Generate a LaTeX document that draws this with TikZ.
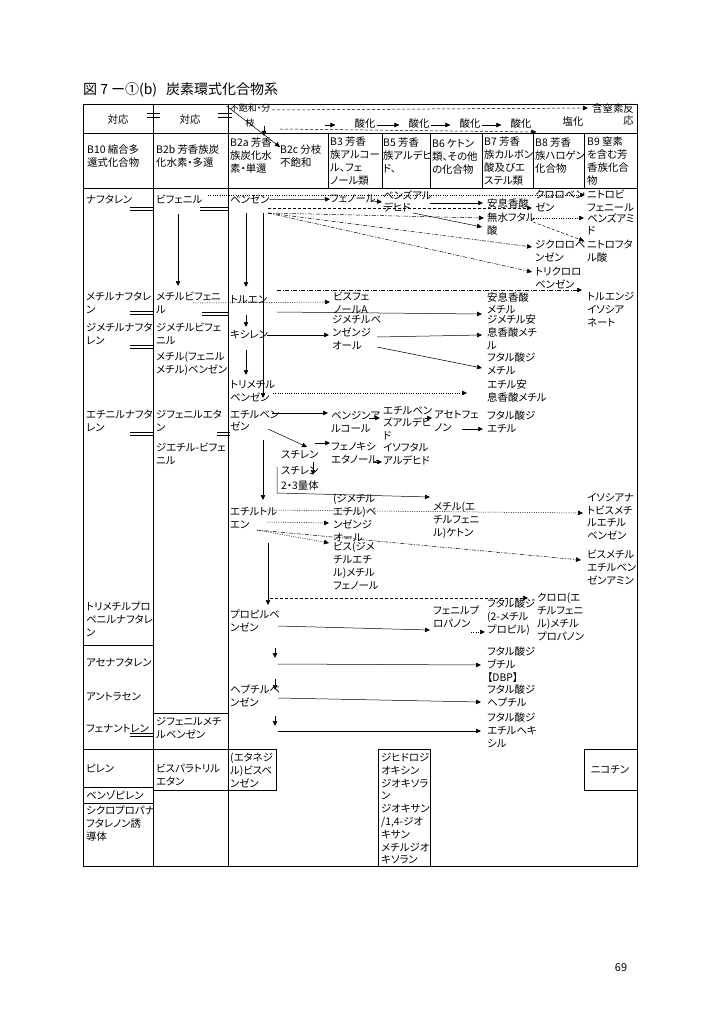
\documentclass[tikz,border=0pt]{standalone}
\usepackage{fontspec}
\setmainfont{Noto Sans CJK JP}[RawFeature=+palt]
\usetikzlibrary{positioning, arrows.meta, calc}

\tikzset{
  lbl/.style={anchor=north west, inner sep=0pt, align=left, font=\fontsize{10.4}{12.8}\selectfont},
  arr/.style={-{Triangle[length=5pt,width=4.5pt]}, line width=0.5pt},
  dotarr/.style={arr, dash pattern=on 1pt off 1.3pt},
  dasharr/.style={arr, dash pattern=on 3pt off 2pt},
  ddarr/.style={arr, dash pattern=on 4pt off 1.5pt on 1pt off 1.5pt},
  rule/.style={line width=0.7pt},
  eqmark/.style={line width=0.5pt},
}

\begin{document}
\begin{tikzpicture}[x=1pt, y=-1pt]
  \useasboundingbox (0,0) rectangle (720,1024);

  % title and page number
  \node[anchor=west, inner sep=0pt, font=\fontsize{14}{16}\selectfont] (title) at (83,90) {図 7 ー①(b)\hspace{9pt}炭素環式化合物系};
  \node[inner sep=0pt, font=\fontsize{11}{13}\selectfont] (pgno) at (621,968) {69};

  % table frame
  \draw[rule] (83,104) rectangle (637,866);
  \draw[rule] (83,133) -- (637,133);
  \draw[rule] (83,188) -- (637,188);
  \draw[rule] (153,104) -- (153,866);
  \draw[rule] (228,104) -- (228,866);
  \foreach \x in {328,382,430,482,533,584}
    \draw[rule] (\x,133) -- (\x,188);

  % header row 1
  \node[font=\fontsize{10.4}{12.8}\selectfont] (hc1) at (118,120) {対応};
  \node[font=\fontsize{10.4}{12.8}\selectfont] (hc2) at (190,120) {対応};
  \node[anchor=north, inner sep=0pt, align=center, font=\fontsize{9}{15}\selectfont] (hfb) at (250,104) {不飽和・分\\枝};
  \node[anchor=north east, inner sep=0pt, align=right, font=\fontsize{10.4}{11.5}\selectfont] (hn) at (634,104) {含窒素反\\応};
  \foreach \i/\x in {1/365,2/419,3/470,4/521}
    \node[font=\fontsize{10.4}{12.8}\selectfont, inner sep=0pt] (ox\i) at (\x,124) {酸化};
  \node[font=\fontsize{10.4}{12.8}\selectfont, inner sep=0pt] (hcl) at (573,122) {塩化};

  % header row 2
  \node[lbl] (hb10) at (87,145) {B10 縮合多\\還式化合物};
  \node[lbl] (hb2b) at (156,145) {B2b 芳香族炭\\化水素・多還};
  \node[lbl] (hb2a) at (230,138) {B2a 芳香\\族炭化水\\素・単還};
  \node[lbl] (hb2c) at (280,145) {B2c 分枝\\不飽和};
  \node[lbl] (hb3) at (330,137) {B3 芳香\\族アルコー\\ル、フェ\\ノール類};
  \node[lbl] (hb5) at (383,138) {B5 芳香\\族アルデヒ\\ド、};
  \node[lbl] (hb6) at (432,139) {B6 ケトン\\類、その他\\の化合物};
  \node[lbl] (hb7) at (484,137) {B7 芳香\\族カルボン\\酸及びエ\\ステル類};
  \node[lbl] (hb8) at (535,138) {B8 芳香\\族ハロゲン\\化合物};
  \node[lbl] (hb9) at (587,137) {B9 窒素\\を含む芳\\香族化合\\物};

  % header arrows
  \foreach \xa/\xb in {147/160,218/232} {
    \draw[eqmark] (\xa,113) -- (\xb,113);
    \draw[eqmark] (\xa,117) -- (\xb,117);
  }
  \draw[arr] ($(hfb.north west)+(-3,2)$) -- ($(hb2c.north west)+(0,2)$);
  \draw[arr] ($(hfb.north)+(14,22)$) -- ($(hfb.north)+(14,32)$);
  \draw[dasharr] ($(hfb.north)+(22,6)$) -- ($(hn.north west)+(-4,4)$);
  \coordinate (oxs) at ($(hfb.north)+(30,25)$);
  \draw[dasharr] (oxs) -- ($(hcl.west)+(-26,10)$);
  \draw[arr] ($(ox1.west)+(-29,1)$) -- ($(ox1.west)+(-19,1)$);
  \foreach \a/\b in {ox1/ox2,ox2/ox3,ox3/ox4}
    \draw[arr] ($(\a.east)+(1,1)$) -- ($(\b.west)+(-9,1)$);

  % column B10
  \node[lbl] (naph) at (86,195) {ナフタレン};
  \node[lbl] (mnaph) at (86,292) {メチルナフタレ\\ン};
  \node[lbl] (dmnaph) at (86,323) {ジメチルナフタ\\レン};
  \node[lbl] (enaph) at (86,410) {エチニルナフタ\\レン};
  \node[lbl] (tmpn) at (86,602) {トリメチルプロ\\ペニルナフタレ\\ン};
  \node[lbl] (acen) at (86,658) {アセナフタレン};
  \node[lbl] (anth) at (86,692) {アントラセン};
  \node[lbl] (phen) at (86,724) {フェナントレン};
  \node[lbl] (pyr) at (86,764) {ピレン};
  \node[lbl] (bpyr) at (86,790) {ベンゾピレン};
  \node[lbl] (cpn) at (86,806) {シクロプロパナ\\フタレノン誘\\導体};
  \draw[rule] (83,645) -- (153,645);
  \draw[rule] (83,749) -- (228,749);
  \draw[rule] (83,787) -- (153,787);
  \draw[rule] (83,803) -- (153,803);

  % column B2b
  \node[lbl] (biph) at (156,195) {ビフェニル};
  \node[lbl] (mbiph) at (156,292) {メチルビフェニ\\ル};
  \node[lbl] (dmbiph) at (156,323) {ジメチルビフェ\\ニル};
  \node[lbl] (mpmb) at (156,352) {メチル(フェニル\\メチル)ベンゼン};
  \node[lbl] (dpe) at (156,410) {ジフェニルエタ\\ン};
  \node[lbl] (debiph) at (156,443) {ジエチル-ビフェ\\ニル};
  \node[lbl] (dpmb) at (156,717) {ジフェニルメチ\\ルベンゼン};
  \node[lbl] (bpte) at (156,764) {ビスパラトリル\\エタン};
  \draw[rule] (153,713) -- (228,713);
  \draw[rule] (153,790) -- (228,790);
  \draw[arr] ($(biph.south west)+(22,10)$) -- ($(mbiph.north west)+(22,-6)$);

  % correspondence marks
  \foreach \xa/\xb/\yy in {130/153/209, 200/228/209, 130/153/313, 202/228/314,
                           130/153/347, 130/153/434, 217/230/434, 130/153/735} {
    \draw[eqmark] (\xa,\yy-1.3) -- (\xb,\yy-1.3);
    \draw[eqmark] (\xa,\yy+1.3) -- (\xb,\yy+1.3);
  }

  % single ring hydrocarbons
  \node[lbl] (benz) at (230,195) {ベンゼン};
  \node[lbl] (tol) at (230,295) {トルエン};
  \node[lbl] (xyl) at (230,330) {キシレン};
  \node[lbl] (tmb) at (230,380) {トリメチル\\ベンゼン};
  \node[lbl] (ebz) at (230,410) {エチルベン\\ゼン};
  \node[lbl] (sty) at (281,450) {スチレン};
  \node[lbl, font=\fontsize{10.4}{15}\selectfont] (dimer) at (281,466) {スチレン\\2・3量体};
  \node[lbl] (etol) at (230,507) {エチルトル\\エン};
  \node[lbl] (pbz) at (230,610) {プロピルベ\\ンゼン};
  \node[lbl] (hbz) at (230,685) {ヘプチルベ\\ンゼン};
  \node[lbl] (ebb) at (230,753) {(エタネジ\\ル)ビスベ\\ンゼン};
  \draw[rule] (228,749) -- (276,749) -- (276,790) -- (228,790);

  % B3
  \node[lbl] (phenol) at (330,195) {フェノール};
  \node[lbl] (bpa) at (333,292) {ビスフェ\\ノールA};
  \node[lbl] (dmbd) at (332,315) {ジメチルベ\\ンゼンジ\\オール};
  \node[lbl] (bzalc) at (331,411) {ベンジンア\\ルコール};
  \node[lbl] (phe) at (331,442) {フェノキシ\\エタノール};
  \node[lbl] (dmebd) at (333,494) {(ジメチル\\エチル)ベ\\ンゼンジ\\オール};
  \node[lbl] (bdmep) at (333,542) {ビス(ジメ\\チルエチ\\ル)メチル\\フェノール};

  % B5, B6
  \node[lbl] (bzald) at (383,190) {ベンズアル\\デヒド};
  \node[lbl] (ebzald) at (383,406) {エチルベン\\ズアルデヒ\\ド};
  \node[lbl] (ipa) at (383,443) {イソフタル\\アルデヒド};
  \node[lbl] (acph) at (434,410) {アセトフェ\\ノン};
  \node[lbl] (mek) at (433,502) {メチル(エ\\チルフェニ\\ル)ケトン};
  \node[lbl] (ppn) at (433,606) {フェニルプ\\ロパノン};
  \node[lbl] (diox) at (381,753) {ジヒドロジ\\オキシン\\ジオキソラ\\ン\\ジオキサン\\/1,4-ジオ\\キサン\\メチルジオ\\キソラン};
  \draw[rule] (378,866) -- (378,749) -- (430,749) -- (430,866);

  % B7
  \node[lbl] (bzac) at (487,198) {安息香酸};
  \node[lbl] (pa) at (487,213) {無水フタル\\酸};
  \node[lbl] (mbz) at (487,292) {安息香酸\\メチル};
  \node[lbl] (dmmb) at (487,315) {ジメチル安\\息香酸メチ\\ル};
  \node[lbl] (dmp) at (487,353) {フタル酸ジ\\メチル};
  \node[lbl] (emb) at (487,380) {エチル安\\息香酸メチル};
  \node[lbl] (dep) at (487,411) {フタル酸ジ\\エチル};
  \node[lbl] (dibp) at (487,599) {フタル酸ジ\\(2-メチル\\プロピル)};
  \node[lbl] (dbp) at (487,647) {フタル酸ジ\\ブチル\\【DBP】};
  \node[lbl] (dhp) at (487,685) {フタル酸ジ\\ヘプチル};
  \node[lbl] (dehp) at (487,713) {フタル酸ジ\\エチルヘキ\\シル};

  % B8, B9
  \node[lbl] (clbz) at (535,190) {クロロベン\\ゼン};
  \node[lbl] (dcb) at (535,240) {ジクロロベ\\ンゼン};
  \node[lbl] (tcb) at (535,267) {トリクロロ\\ベンゼン};
  \node[lbl] (cepmp) at (537,593) {クロロ(エ\\チルフェニ\\ル)メチル\\プロパノン};
  \node[lbl] (nbp) at (587,190) {ニトロビ\\フェニール};
  \node[lbl] (bzam) at (587,213) {ベンズアミ\\ド};
  \node[lbl] (npa) at (587,240) {ニトロフタ\\ル酸};
  \node[lbl] (tdi) at (587,292) {トルエンジ\\イソシア\\ネート};
  \node[lbl] (iso) at (587,493) {イソシアナ\\トビスメチ\\ルエチル\\ベンゼン};
  \node[lbl] (bmea) at (587,550) {ビスメチル\\エチルベン\\ゼンアミン};
  \node[font=\fontsize{10.4}{12.8}\selectfont] (nic) at (610,770) {ニコチン};
  \draw[rule] (584,749) rectangle (637,790);

  % benzene
  \draw[dotarr] ($(biph.north west)+(52,0)$) -- ($(nbp.north west)+(-2,5)$);
  \draw[arr] (benz.east) -- (phenol.west);
  \draw[arr] ($(phenol.north west)+(42,6)$) -- ($(bzald.north west)+(-1,12)$);
  \draw[dasharr] ($(benz.north west)+(38,13)$) -- ($(clbz.north west)+(-3,18)$);
  \draw[arr] ($(bzald.north west)+(47,13)$) -- ($(bzac.north west)+(-4,5)$);
  \draw[arr] ($(bzald.north west)+(30,23)$) -- ($(pa.north west)+(-5,14)$);
  \draw[ddarr] ($(benz.north west)+(38,18)$) -- ($(pa.north west)+(-3,5)$);
  \draw[dotarr] ($(pa.north west)+(44,5)$) -- ($(bzam.north west)+(-3,5)$);
  \draw[dasharr] ($(pa.north west)+(46,9)$) -- ($(npa.north west)+(-3,1)$);
  \draw[ddarr] ($(benz.north west)+(38,18)$) -- ($(dcb.north west)+(-3,7)$);
  \draw[ddarr] ($(benz.north west)+(38,18)$) -- ($(tcb.north west)+(-3,5)$);

  % toluene, xylene
  \draw[arr] ($(benz.north west)+(16,18)$) -- ($(tol.north west)+(16,-8)$);
  \draw[arr] ($(tol.north west)+(16,20)$) -- ($(xyl.north west)+(16,-3)$);
  \draw[arr] ($(xyl.north west)+(16,20)$) -- ($(tmb.north west)+(16,-5)$);
  \draw[arr] ($(benz.north west)+(33,18)$) -- ($(tmb.north west)+(33,18)$);
  \draw[ddarr] ($(tol.north west)+(47,-5)$) -- ($(tdi.north west)+(-5,-2)$);
  \draw[dotarr] ($(mbiph.north west)+(37,11)$) -- ($(bpa.north west)+(-3,10)$);
  \draw[arr] ($(tol.north west)+(47,17)$) -- ($(mbz.north west)+(-5,22)$);
  \draw[arr] ($(xyl.north west)+(37,5)$) -- ($(dmbd.north west)+(-3,20)$);
  \draw[arr] ($(dmbd.north west)+(45,22)$) -- ($(dmmb.north west)+(-5,20)$);
  \draw[arr] ($(dmbd.north west)+(45,32)$) -- ($(dmp.north west)+(-5,15)$);
  \draw[dotarr] ($(tmb.north west)+(43,13)$) -- ($(emb.north west)+(-20,13)$);

  % ethylbenzene
  \draw[arr] ($(ebz.north west)+(42,3)$) -- ($(bzalc.north west)+(-3,2)$);
  \draw[arr] ($(bzalc.north west)+(38,7)$) -- ($(ebzald.north west)+(-3,12)$);
  \draw[arr] ($(ebzald.north west)+(42,12)$) -- ($(acph.north west)+(-2,8)$);
  \draw[arr] ($(acph.north west)+(28,19)$) -- ($(dep.north west)+(-4,18)$);
  \draw[arr] ($(ebz.north west)+(38,19)$) -- ($(sty.north west)+(26,-3)$);
  \draw[arr] ($(sty.north west)+(34,-7)$) -- ($(phe.north west)+(-1,1)$);
  \draw[arr] ($(phe.north west)+(42,20)$) -- ($(ipa.north west)+(-1,19)$);
  \draw[arr] ($(sty.north west)+(32,12)$) -- ($(dimer.north west)+(32,9)$);
  \draw[arr] ($(dimer.north west)+(-4,1)$) -- ($(dimer.north west)+(-4,27)$) -- ($(mek.north west)+(-3,-5)$);
  \draw[arr] ($(ebz.north west)+(33,30)$) -- ($(etol.north west)+(33,-7)$);

  % ethyltoluene
  \draw[dotarr] ($(etol.north west)+(37,3)$) -- ($(iso.north west)+(-4,20)$);
  \draw[dotarr] ($(etol.north west)+(37,15)$) -- ($(dmebd.north west)+(-4,29)$);
  \draw[dotarr] ($(etol.north west)+(27,23)$) -- ($(bdmep.north west)+(-4,1)$);
  \draw[ddarr] ($(etol.north west)+(27,23)$) -- ($(bmea.north west)+(-6,10)$);
  \draw[arr] ($(etol.north west)+(38,36)$) -- ($(pbz.north west)+(38,-5)$);
  \coordinate (brk) at ($(pbz.north west)+(40,-12)$);
  \draw[dasharr] (brk) -- ($(cepmp.north west)+(-9,5)$);

  % propyl- and heptylbenzene
  \draw[arr] ($(pbz.north west)+(48,16)$) -- ($(ppn.north west)+(-3,24)$);
  \draw[dotarr] ($(ppn.north west)+(38,26)$) -- ($(dibp.north west)+(-2,33)$);
  \draw[arr] ($(pbz.north west)+(45,38)$) -- ($(pbz.north west)+(45,48)$);
  \draw[arr] ($(pbz.north west)+(48,54)$) -- ($(dbp.north west)+(-6,18)$);
  \draw[arr] ($(hbz.north west)+(45,-6)$) -- ($(hbz.north west)+(45,5)$);
  \draw[arr] ($(hbz.north west)+(48,13)$) -- ($(dhp.north west)+(-6,17)$);
  \draw[arr] ($(hbz.north west)+(45,31)$) -- ($(hbz.north west)+(45,41)$);
  \draw[arr] ($(hbz.north west)+(48,46)$) -- ($(dehp.north west)+(-6,18)$);
\end{tikzpicture}
\end{document}
